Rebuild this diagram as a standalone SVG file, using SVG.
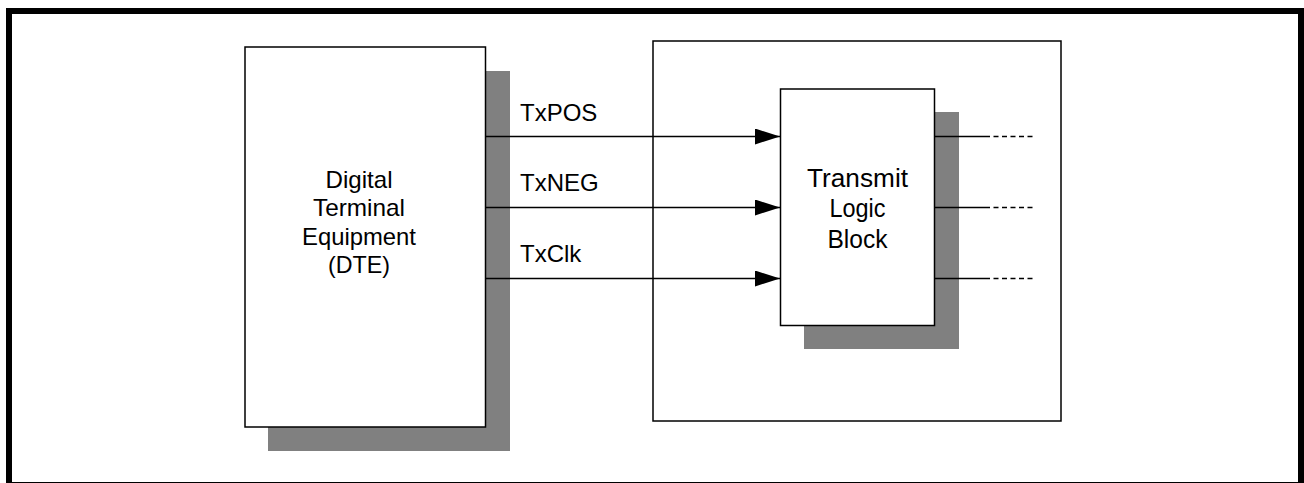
<svg xmlns="http://www.w3.org/2000/svg" width="1304" height="483" viewBox="0 0 1304 483">
<style>
.box{fill:#fff;stroke:#000;stroke-width:1.5}
.shadow{fill:#808080;stroke:none}
.txt{font-family:"Liberation Sans",Arial,sans-serif;font-size:24px;fill:#000}
.big{font-size:26px}
.wire{stroke:#000;stroke-width:1.5;fill:none}
.dash{stroke:#000;stroke-width:1.5;fill:none;stroke-dasharray:5 3.5}
</style>
<defs>
<marker id="arr" markerUnits="userSpaceOnUse" markerWidth="26" markerHeight="16" refX="25" refY="8" orient="auto">
<path d="M0,0 L25,8 L0,16 Z" fill="#000"/>
</marker>
</defs>
<rect width="1304" height="483" fill="#fff"/>
<rect x="9" y="11" width="1292" height="474" fill="none" stroke="#000" stroke-width="6"/>
<g id="system">
<rect class="box" x="653" y="41" width="408" height="380"/>
</g>
<g id="dte">
<rect class="shadow" x="268" y="71" width="242" height="380"/>
<rect class="box" x="245" y="47" width="240.5" height="380"/>
<text class="txt" text-anchor="middle" x="359" y="187.5" textLength="67" lengthAdjust="spacingAndGlyphs">Digital</text>
<text class="txt" text-anchor="middle" x="359" y="216" textLength="92" lengthAdjust="spacingAndGlyphs">Terminal</text>
<text class="txt" text-anchor="middle" x="359" y="244.5" textLength="114" lengthAdjust="spacingAndGlyphs">Equipment</text>
<text class="txt" text-anchor="middle" x="359" y="273" textLength="62" lengthAdjust="spacingAndGlyphs">(DTE)</text>
</g>
<g id="tlb">
<rect class="shadow" x="804" y="112" width="155" height="237"/>
<rect class="box" x="780.5" y="89" width="154" height="236.5"/>
<text class="txt big" text-anchor="middle" x="857.5" y="186.5" textLength="101" lengthAdjust="spacingAndGlyphs">Transmit</text>
<text class="txt big" text-anchor="middle" x="857.5" y="217" textLength="56" lengthAdjust="spacingAndGlyphs">Logic</text>
<text class="txt big" text-anchor="middle" x="857.5" y="248" textLength="60" lengthAdjust="spacingAndGlyphs">Block</text>
</g>
<g id="connectors">
<line class="wire" x1="486" y1="136.5" x2="780" y2="136.5" marker-end="url(#arr)"/>
<line class="wire" x1="486" y1="207.5" x2="780" y2="207.5" marker-end="url(#arr)"/>
<line class="wire" x1="486" y1="278.5" x2="780" y2="278.5" marker-end="url(#arr)"/>
<text class="txt" x="520" y="120.7">TxPOS</text>
<text class="txt" x="520" y="191">TxNEG</text>
<text class="txt" x="520" y="262.3">TxClk</text>
<line class="wire" x1="935" y1="136.5" x2="985" y2="136.5"/>
<line class="wire" x1="935" y1="207.5" x2="985" y2="207.5"/>
<line class="wire" x1="935" y1="278.5" x2="985" y2="278.5"/>
<line class="dash" x1="985" y1="136.5" x2="1036" y2="136.5"/>
<line class="dash" x1="985" y1="207.5" x2="1036" y2="207.5"/>
<line class="dash" x1="985" y1="278.5" x2="1036" y2="278.5"/>
</g>
</svg>
